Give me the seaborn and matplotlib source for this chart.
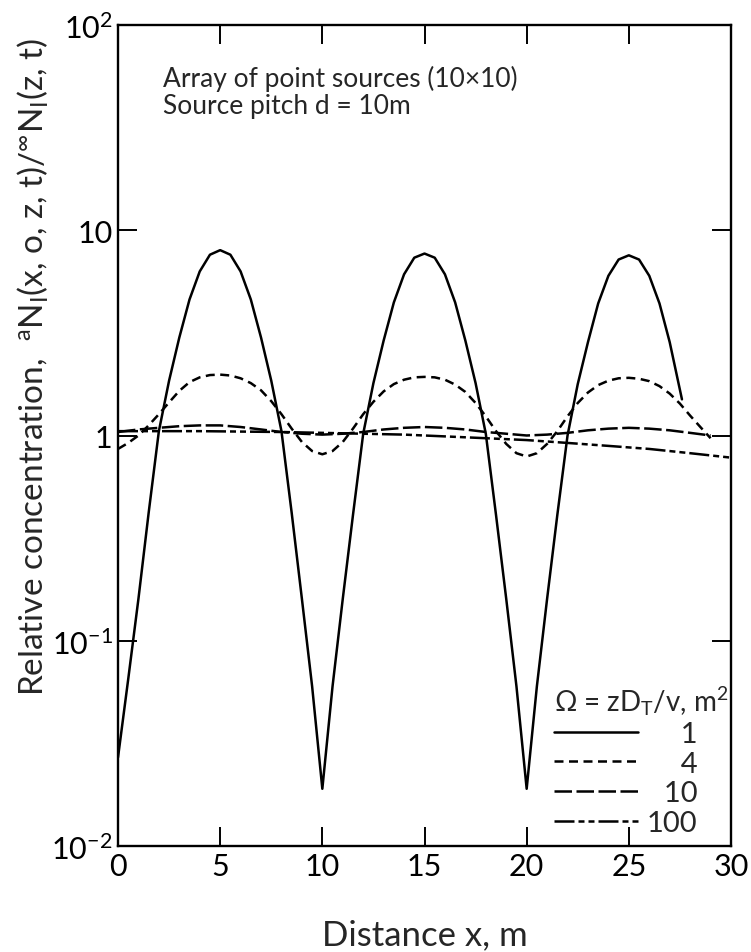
import numpy as np
import pandas as pd
import matplotlib
matplotlib.use("Agg")
import matplotlib.pyplot as plt
import matplotlib.ticker as mticker
import seaborn as sns

# ---------------- data ----------------
x_om1 = [0, 0.5, 1, 1.5, 2, 2.5, 3, 3.5, 4, 4.5, 5, 5.5, 6, 6.5, 7, 7.5, 8, 8.5, 9, 9.5, 10,
         10.5, 11, 11.5, 12, 12.5, 13, 13.5, 14, 14.5, 15, 15.5, 16, 16.5, 17, 17.5, 18, 18.5, 19, 19.5, 20,
         20.5, 21, 21.5, 22, 22.5, 23, 23.5, 24, 24.5, 25, 25.5, 26, 26.5, 27, 27.6]
y_om1 = [0.027, 0.065, 0.16, 0.42, 1.05, 1.85, 3.0, 4.6, 6.3, 7.6, 8.0, 7.6, 6.3, 4.6, 3.0, 1.85, 1.05, 0.42, 0.16, 0.06, 0.019,
         0.06, 0.16, 0.41, 1.02, 1.8, 2.9, 4.45, 6.1, 7.35, 7.7, 7.35, 6.1, 4.45, 2.9, 1.8, 1.02, 0.41, 0.16, 0.06, 0.019,
         0.06, 0.16, 0.41, 1.0, 1.78, 2.85, 4.4, 6.0, 7.2, 7.55, 7.2, 6.0, 4.4, 2.85, 1.5]

x_om4 = [0, 0.5, 1, 1.5, 2, 2.5, 3, 3.5, 4, 4.5, 5, 5.5, 6, 6.5, 7, 7.5, 8, 8.5, 9, 9.5, 10,
         10.5, 11, 11.5, 12, 12.5, 13, 13.5, 14, 14.5, 15, 15.5, 16, 16.5, 17, 17.5, 18, 18.5, 19, 19.5, 20,
         20.5, 21, 21.5, 22, 22.5, 23, 23.5, 24, 24.5, 25, 25.5, 26, 26.5, 27, 27.5, 28, 28.5, 29]
y_om4 = [0.86, 0.92, 1.0, 1.12, 1.27, 1.45, 1.65, 1.82, 1.92, 1.97, 1.98, 1.96, 1.9, 1.8, 1.66, 1.47, 1.27, 1.08, 0.93, 0.84, 0.81,
         0.84, 0.93, 1.08, 1.27, 1.46, 1.64, 1.78, 1.87, 1.92, 1.93, 1.92, 1.87, 1.77, 1.63, 1.44, 1.24, 1.05, 0.91, 0.82, 0.79,
         0.82, 0.91, 1.05, 1.24, 1.44, 1.62, 1.76, 1.85, 1.9, 1.91, 1.89, 1.84, 1.74, 1.6, 1.43, 1.25, 1.1, 0.97]

x_om10 = [0, 1, 2, 3, 4, 5, 6, 7, 8, 9, 10, 11, 12, 13, 14, 15, 16, 17, 18, 19, 20,
          21, 22, 23, 24, 25, 26, 27, 28, 29]
y_om10 = [1.04, 1.07, 1.09, 1.11, 1.12, 1.12, 1.1, 1.07, 1.04, 1.02, 1.01, 1.02, 1.04, 1.07, 1.09, 1.1, 1.09, 1.07, 1.04, 1.02, 1.0,
          1.01, 1.03, 1.06, 1.08, 1.09, 1.08, 1.06, 1.03, 1.0]

x_om100 = [0, 2, 4, 6, 8, 10, 12, 14, 16, 18, 20, 22, 24, 26, 28, 30]
y_om100 = [1.05, 1.05, 1.05, 1.045, 1.04, 1.03, 1.02, 1.01, 0.99, 0.97, 0.95, 0.92, 0.89, 0.86, 0.82, 0.78]

omega_labels = ["\u2007\u20071", "\u2007\u20074", "\u200710", "100"]
x_ticks = [0, 5, 10, 15, 20, 25, 30]
y_ticks = [1e-2, 1e-1, 1, 10, 100]
y_ticklabels = [r"$10^{-2}$", r"$10^{-1}$", "1", "10", r"$10^{2}$"]

# ---------------- style ----------------
sns.set_theme(style="ticks")
plt.rcParams['font.family'] = ['Lato', 'DejaVu Sans']
plt.rcParams['mathtext.fontset'] = 'custom'
plt.rcParams['mathtext.rm'] = 'Lato'
plt.rcParams['mathtext.it'] = 'Lato'
plt.rcParams['mathtext.bf'] = 'Lato:bold'
plt.rcParams['mathtext.fallback'] = 'cm'

fig = plt.figure(figsize=(7.51, 9.53), dpi=100)
ax = fig.add_axes([118 / 751, 1 - 847 / 953, (731 - 118) / 751, (847 - 26) / 953])

lw = 1.8
series = [
    (x_om1, y_om1, '-'),
    (x_om4, y_om4, (0, (3.6, 2.2))),
    (x_om10, y_om10, (0, (7, 1.8))),
    (x_om100, y_om100, (0, (8, 1.6, 2.4, 1.6, 2.4, 1.6))),
]
for (xs, ys, ls), lab in zip(series, omega_labels):
    df = pd.DataFrame({"x": xs, "y": ys})
    sns.lineplot(data=df, x="x", y="y", ax=ax, color="black", lw=lw,
                 linestyle=ls, label=lab, sort=False, estimator=None)

ax.set_yscale('log')
ax.set_xlim(0, 30)
ax.set_ylim(1e-2, 1e2)
ax.set_xticks(x_ticks)
ax.set_xticklabels([str(v) for v in x_ticks])
ax.set_yticks(y_ticks)
ax.set_yticklabels(y_ticklabels)
ax.yaxis.set_minor_locator(mticker.NullLocator())
ax.tick_params(axis='both', which='major', direction='in', length=14, width=1.4,
               labelsize=22, top=True, right=True, pad=4, colors='black')
for sp in ax.spines.values():
    sp.set_linewidth(1.7)
    sp.set_color('black')
    sp.set_visible(True)

ax.set_xlabel("Distance x, m", fontsize=25, labelpad=28)
ax.set_ylabel(r"Relative concentration,  $^{a}$N$_{I}$(x, o, z, t)/$^{\infty}$N$_{I}$(z, t)",
              fontsize=24)
ax.yaxis.set_label_coords(-0.11, 0.585)

ax.text(0.073, 0.952, "Array of point sources (10\u00d710)\nSource pitch d = 10m",
        transform=ax.transAxes, ha='left', va='top', fontsize=19, linespacing=1.1)

leg = ax.legend(loc='lower right', bbox_to_anchor=(0.995, 0.012), frameon=False,
                title=r"$\Omega$ = zD$_{T}$/v, m$^{2}$", title_fontsize=20,
                fontsize=21, handlelength=2.9, handletextpad=0.3, labelspacing=0.13,
                borderaxespad=0.0, borderpad=0.0)
leg._legend_box.align = "left"

fig.savefig("out.png", dpi=100)
